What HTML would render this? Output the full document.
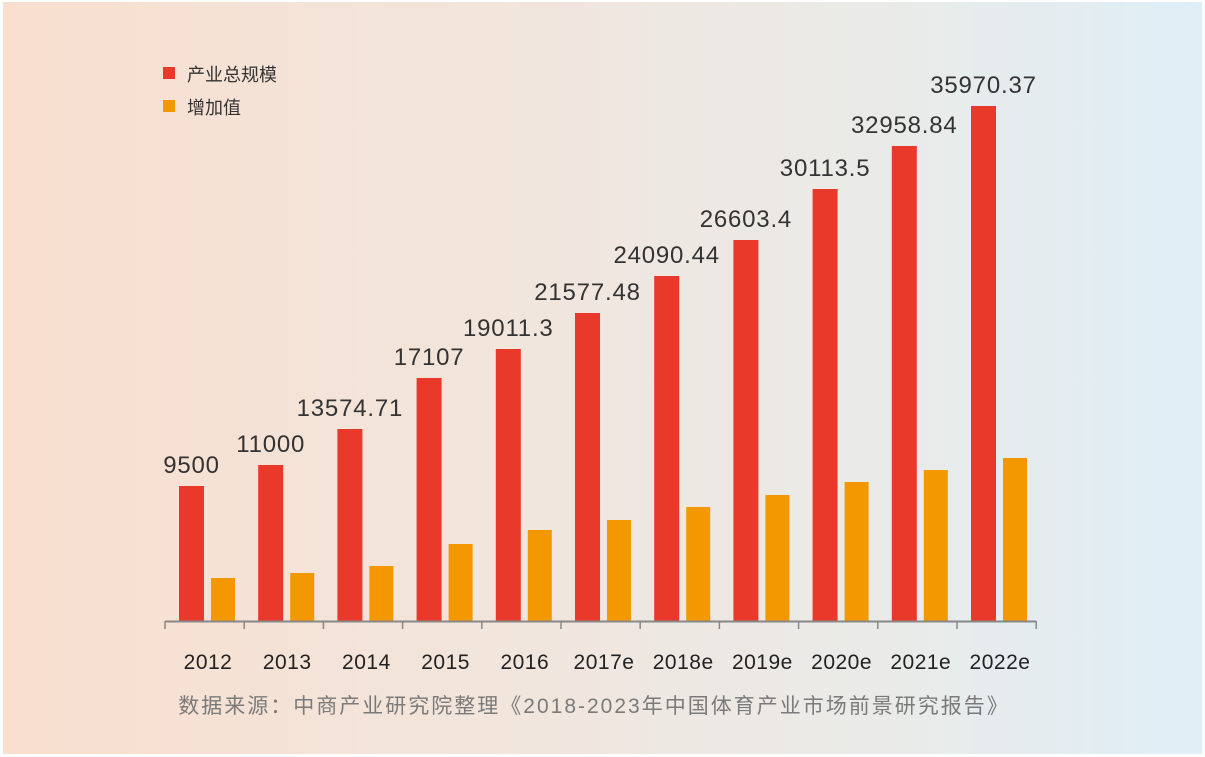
<!DOCTYPE html>
<html><head><meta charset="utf-8"><style>
body{margin:0;width:1205px;height:757px;background:#fff;overflow:hidden}
.bg{position:absolute;left:3px;top:2px;width:1199px;height:752px;background:linear-gradient(90deg,#f8dfcf 0%,#f2e5dc 40%,#e9ebe9 75%,#dfeef7 100%)}
svg{position:absolute;left:0;top:0}
text{font-family:"Liberation Sans","Noto Sans CJK SC",sans-serif}
</style></head><body><div class="bg"></div>
<svg width="1205" height="757" xmlns="http://www.w3.org/2000/svg">
<rect x="163" y="67" width="12" height="12" fill="#e8392a"/>
<text x="187" y="81" font-size="18" fill="#333">产业总规模</text>
<rect x="163" y="100" width="12" height="12" fill="#f39800"/>
<text x="187" y="114" font-size="18" fill="#333">增加值</text>
<g id="bars"></g>
<line x1="165" y1="621.5" x2="1036" y2="621.5" stroke="#888" stroke-width="2"/>
<g id="ticks" stroke="#888" stroke-width="1.5"></g>
<g id="labels"></g>
<text x="594" y="713" font-size="21" letter-spacing="2" fill="#7a7a7a" text-anchor="middle">数据来源：中商产业研究院整理《2018-2023年中国体育产业市场前景研究报告》</text>
</svg>
<script>
var years=["2012","2013","2014","2015","2016","2017e","2018e","2019e","2020e","2021e","2022e"];
var vals=["9500","11000","13574.71","17107","19011.3","21577.48","24090.44","26603.4","30113.5","32958.84","35970.37"];
var red=[486,465,429,378,349,313,276,240,189,146,106];
var org=[578,573,566,544,530,520,507,495,482,470,458];
var ns="http://www.w3.org/2000/svg",b=document.getElementById("bars"),t=document.getElementById("ticks"),l=document.getElementById("labels");
function el(p,n,a,txt){var e=document.createElementNS(ns,n);for(var k in a)e.setAttribute(k,a[k]);if(txt)e.textContent=txt;p.appendChild(e);}
for(var i=0;i<11;i++){var x0=165+i*79.2;
el(b,"rect",{x:x0+14,y:red[i],width:25,height:621-red[i],fill:"#e8392a"});
el(b,"rect",{x:x0+46,y:org[i],width:24,height:621-org[i],fill:"#f39800"});
el(l,"text",{x:x0+26.5,y:red[i]-13,"font-size":24,"letter-spacing":0.8,fill:"#333","text-anchor":"middle"},vals[i]);
el(l,"text",{x:x0+43,y:669,"font-size":21,"letter-spacing":0.5,fill:"#222","text-anchor":"middle"},years[i]);
}
for(var i=0;i<=11;i++){var x=165+i*79.2;el(t,"line",{x1:x,y1:621,x2:x,y2:629});}
</script>
</body></html>
